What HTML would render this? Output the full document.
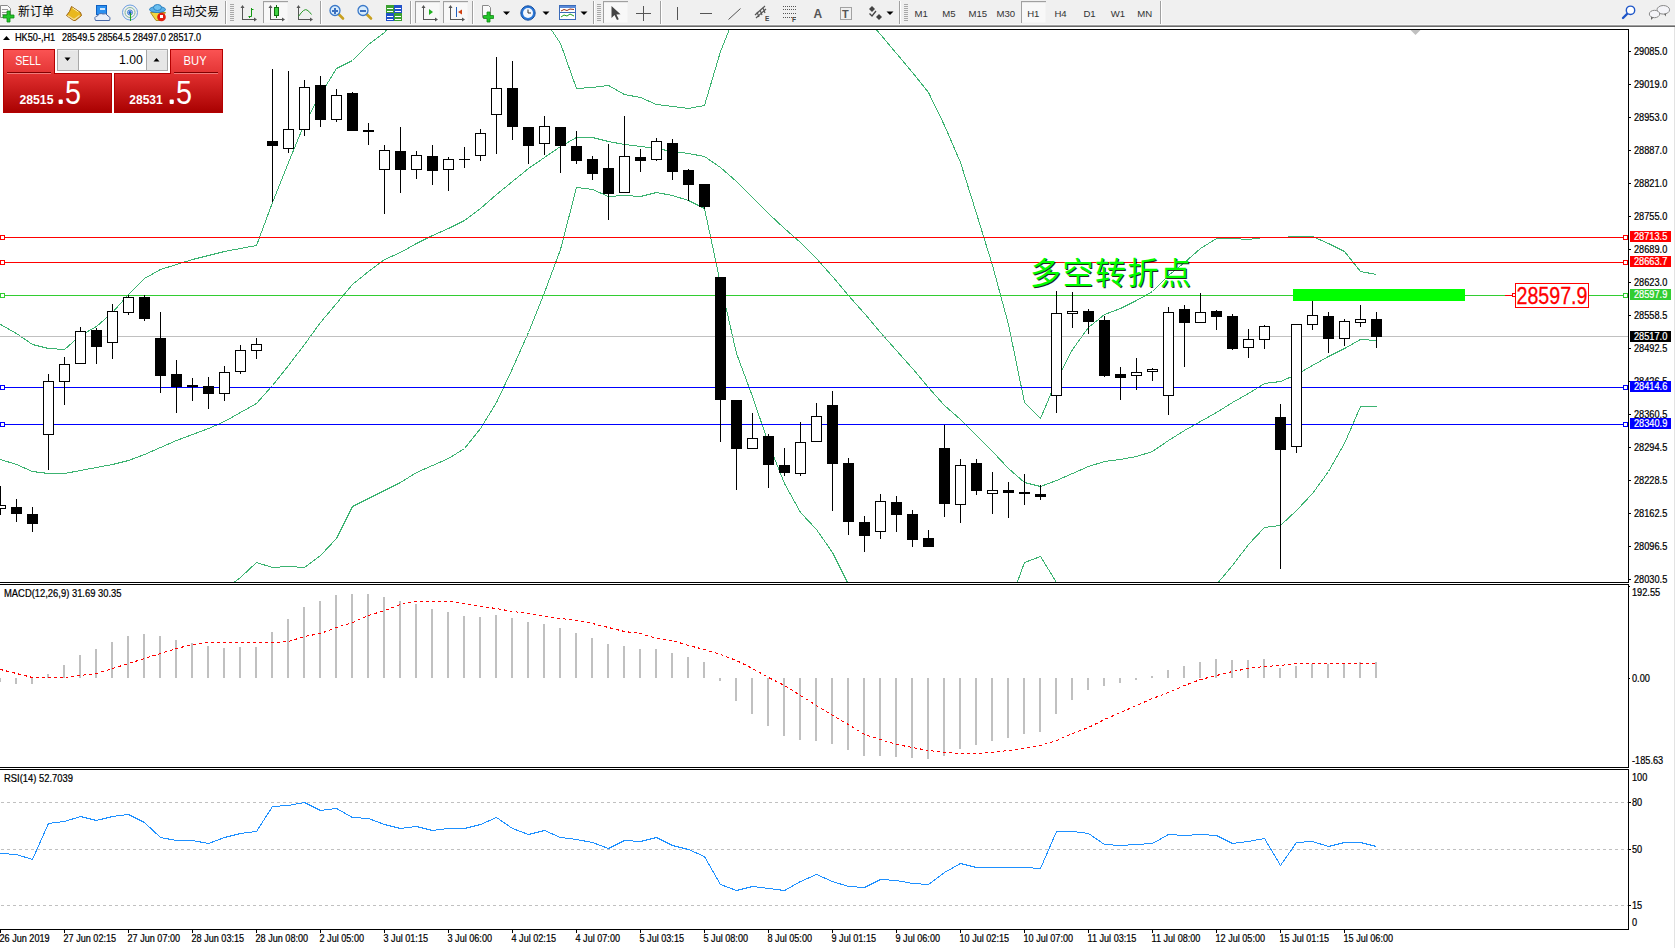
<!DOCTYPE html>
<html><head><meta charset="utf-8"><title>HK50 H1</title>
<style>html,body{margin:0;padding:0;background:#fff;}body{width:1675px;height:948px;overflow:hidden;position:relative;}</style>
</head><body>
<svg width="1675" height="948" viewBox="0 0 1675 948" style="position:absolute;left:0;top:0">
<defs>
<clipPath id="cmain"><rect x="0" y="30" width="1628" height="552"/></clipPath>
<clipPath id="cmacd"><rect x="0" y="585" width="1628" height="182"/></clipPath>
<clipPath id="crsi"><rect x="0" y="770" width="1628" height="159"/></clipPath>
<linearGradient id="gTop" x1="0" y1="0" x2="0" y2="1"><stop offset="0" stop-color="#fb5454"/><stop offset="1" stop-color="#e33434"/></linearGradient>
<linearGradient id="gBot" x1="0" y1="0" x2="0" y2="1"><stop offset="0" stop-color="#e23030"/><stop offset="1" stop-color="#a80000"/></linearGradient>
<linearGradient id="gBtn" x1="0" y1="0" x2="0" y2="1"><stop offset="0" stop-color="#f2f2f2"/><stop offset="1" stop-color="#e2e2e2"/></linearGradient>
</defs>
<rect x="0" y="0" width="1675" height="948" fill="#ffffff" />
<rect x="0" y="0" width="1675" height="24" fill="#f0f0f0" />
<rect x="0" y="24" width="1675" height="1" fill="#f7f7f7" />
<rect x="0" y="25" width="1675" height="1" fill="#a0a0a0" />
<rect x="0" y="26" width="1675" height="1" fill="#696969" />
<rect x="1674" y="27" width="1" height="921" fill="#e3e3e3" />
<path d="M0.5,5.5 H7.5 L10.5,8.5 V17.5 H0.5 Z" fill="#fafafa" stroke="#8a8a8a" stroke-width="1"/>
<rect x="2" y="9" width="6" height="1" fill="#9a9a9a" />
<rect x="2" y="12" width="6" height="1" fill="#9a9a9a" />
<rect x="2" y="14" width="5" height="1" fill="#9a9a9a" />
<path d="M7,11 h3 v4 h4 v3 h-4 v4 h-3 v-4 h-4 v-3 h4 z" fill="#22c52a" stroke="#0f8a12" stroke-width="0.8"/>
<text x="18" y="16.3" font-size="12" fill="#000" text-anchor="start" font-weight="normal" font-family="'Liberation Sans', 'Noto Sans CJK SC', 'WenQuanYi Zen Hei', sans-serif" >新订单</text>
<path d="M71.5,6.5 L80.5,12.5 L81.5,15.5 L75.5,20.5 L73.5,20.5 L66.5,15.5 L69.5,11.5 Z" fill="#e9b81e" stroke="#9a6010" stroke-width="1" stroke-linejoin="round"/>
<path d="M67.5,15.5 L74,19.5 L79.5,15.5" fill="none" stroke="#f4dd9a" stroke-width="1.2"/>
<path d="M72.5,8 L78.5,12" fill="none" stroke="#fff5b0" stroke-width="1"/>
<rect x="96.5" y="5.5" width="10" height="9" fill="#2a8ff0" stroke="#1060c0" stroke-width="1"/>
<rect x="100" y="8" width="5" height="2" fill="#cfe8ff" />
<path d="M95.5,20.5 Q93.5,16.5 97.5,16 Q99,12.5 103,14 Q106,12.5 108,16 Q111,17 109.5,20.5 Z" fill="#e8eef8" stroke="#4a6aa8" stroke-width="1"/>
<circle cx="130" cy="12.5" r="7.5" fill="none" stroke="#6b9ee0" stroke-width="1"/>
<circle cx="130" cy="12.5" r="5" fill="none" stroke="#7fb8a0" stroke-width="1"/>
<circle cx="130" cy="12.5" r="2.5" fill="none" stroke="#4080d0" stroke-width="1"/>
<circle cx="130" cy="12.5" r="1.6" fill="#2060d0"/>
<rect x="130" y="13" width="1" height="8" fill="#20a020" />
<path d="M150.5,12.5 L165.5,12.5 L160,20.5 L156,20.5 Z" fill="#f2d840" stroke="#b09020" stroke-width="1"/>
<ellipse cx="157.5" cy="9.5" rx="8" ry="3" fill="#5ab0e8" stroke="#2a80c0" stroke-width="1"/>
<ellipse cx="157.5" cy="7.5" rx="4" ry="3" fill="#6cc0f0" stroke="#2a80c0" stroke-width="1"/>
<circle cx="161.5" cy="17" r="4.3" fill="#e02010"/>
<rect x="160" y="15" width="3" height="3" fill="#ffffff" />
<text x="171" y="16.3" font-size="12" fill="#000" text-anchor="start" font-weight="normal" font-family="'Liberation Sans', 'Noto Sans CJK SC', 'WenQuanYi Zen Hei', sans-serif" >自动交易</text>
<rect x="225" y="1" width="1" height="23" fill="#a0a0a0" />
<rect x="226" y="1" width="1" height="23" fill="#ffffff" />
<rect x="230" y="4" width="4" height="1" fill="#a8a8a8" />
<rect x="230" y="6" width="4" height="1" fill="#a8a8a8" />
<rect x="230" y="8" width="4" height="1" fill="#a8a8a8" />
<rect x="230" y="10" width="4" height="1" fill="#a8a8a8" />
<rect x="230" y="12" width="4" height="1" fill="#a8a8a8" />
<rect x="230" y="14" width="4" height="1" fill="#a8a8a8" />
<rect x="230" y="16" width="4" height="1" fill="#a8a8a8" />
<rect x="230" y="18" width="4" height="1" fill="#a8a8a8" />
<rect x="230" y="20" width="4" height="1" fill="#a8a8a8" />
<rect x="242" y="7" width="1" height="13" fill="#555" />
<rect x="242" y="19" width="13" height="1" fill="#555" />
<polygon points="240.5,8 244.5,8 242.5,5" fill="#555"/>
<polygon points="254,17.5 254,21.5 257,19.5" fill="#555"/>
<path d="M248.5,16.5 H251.5 V9.5 H253.5" fill="none" stroke="#119911" stroke-width="1"/>
<rect x="251" y="8" width="1" height="2" fill="#119911" />
<rect x="249" y="16" width="1" height="2" fill="#119911" />
<rect x="263.5" y="1.5" width="24" height="21" fill="#f8f8f8" stroke="none"/>
<rect x="263" y="1" width="25" height="1" fill="#a0a0a0" />
<rect x="263" y="1" width="1" height="22" fill="#a0a0a0" />
<rect x="264" y="2" width="24" height="1" fill="#e8e8e8" />
<rect x="270" y="7" width="1" height="13" fill="#555" />
<rect x="270" y="19" width="13" height="1" fill="#555" />
<polygon points="268.5,8 272.5,8 270.5,5" fill="#555"/>
<polygon points="282,17.5 282,21.5 285,19.5" fill="#555"/>
<rect x="274.5" y="7.5" width="4" height="8" fill="#3ed040" stroke="#107010" stroke-width="1"/>
<rect x="276" y="5" width="1" height="2" fill="#107010" />
<rect x="276" y="16" width="1" height="2" fill="#107010" />
<rect x="298" y="7" width="1" height="13" fill="#555" />
<rect x="298" y="19" width="13" height="1" fill="#555" />
<polygon points="296.5,8 300.5,8 298.5,5" fill="#555"/>
<polygon points="310,17.5 310,21.5 313,19.5" fill="#555"/>
<path d="M298.5,16.5 Q304,8 307,10 T311.5,14.5" fill="none" stroke="#2a9a2a" stroke-width="1"/>
<rect x="320" y="1" width="1" height="23" fill="#a0a0a0" />
<rect x="321" y="1" width="1" height="23" fill="#ffffff" />
<line x1="338" y1="13.5" x2="343" y2="18.5" stroke="#c8a020" stroke-width="2.6" stroke-linecap="round"/>
<circle cx="335" cy="10.5" r="5" fill="#d8ecfc" stroke="#3a78c8" stroke-width="1.3"/>
<rect x="332" y="10.0" width="6" height="2" fill="#3a70c0" />
<rect x="334" y="8.0" width="2" height="6" fill="#3a70c0" />
<line x1="366" y1="13.5" x2="371" y2="18.5" stroke="#c8a020" stroke-width="2.6" stroke-linecap="round"/>
<circle cx="363" cy="10.5" r="5" fill="#d8ecfc" stroke="#3a78c8" stroke-width="1.3"/>
<rect x="360" y="10.0" width="6" height="2" fill="#3a70c0" />
<rect x="386" y="5" width="8" height="8" fill="#3aa030" />
<rect x="387" y="8" width="6" height="1" fill="#ffffff" />
<rect x="387" y="11" width="6" height="1" fill="#ffffff" />
<rect x="394" y="5" width="8" height="8" fill="#2050c8" />
<rect x="395" y="8" width="6" height="1" fill="#ffffff" />
<rect x="395" y="11" width="6" height="1" fill="#ffffff" />
<rect x="386" y="13" width="8" height="8" fill="#2050c8" />
<rect x="387" y="16" width="6" height="1" fill="#ffffff" />
<rect x="387" y="19" width="6" height="1" fill="#ffffff" />
<rect x="394" y="13" width="8" height="8" fill="#3aa030" />
<rect x="395" y="16" width="6" height="1" fill="#ffffff" />
<rect x="395" y="19" width="6" height="1" fill="#ffffff" />
<rect x="410" y="1" width="1" height="23" fill="#a0a0a0" />
<rect x="411" y="1" width="1" height="23" fill="#ffffff" />
<rect x="415.5" y="1.5" width="24" height="21" fill="#f8f8f8" stroke="none"/>
<rect x="415" y="1" width="25" height="1" fill="#a0a0a0" />
<rect x="415" y="1" width="1" height="22" fill="#a0a0a0" />
<rect x="416" y="2" width="24" height="1" fill="#e8e8e8" />
<rect x="423" y="7" width="1" height="13" fill="#555" />
<rect x="423" y="19" width="13" height="1" fill="#555" />
<polygon points="421.5,8 425.5,8 423.5,5" fill="#555"/>
<polygon points="435,17.5 435,21.5 438,19.5" fill="#555"/>
<polygon points="429,9 429,15 433,12" fill="#20b020"/>
<rect x="443.5" y="1.5" width="24" height="21" fill="#f8f8f8" stroke="none"/>
<rect x="443" y="1" width="25" height="1" fill="#a0a0a0" />
<rect x="443" y="1" width="1" height="22" fill="#a0a0a0" />
<rect x="444" y="2" width="24" height="1" fill="#e8e8e8" />
<rect x="450" y="7" width="1" height="13" fill="#555" />
<rect x="450" y="19" width="13" height="1" fill="#555" />
<polygon points="448.5,8 452.5,8 450.5,5" fill="#555"/>
<polygon points="462,17.5 462,21.5 465,19.5" fill="#555"/>
<rect x="456" y="7" width="1" height="10" fill="#2060c0" />
<polygon points="458,12 462,9.5 462,14.5" fill="#d04010"/>
<rect x="472" y="1" width="1" height="23" fill="#a0a0a0" />
<rect x="473" y="1" width="1" height="23" fill="#ffffff" />
<path d="M482.5,5.5 H488.5 L490.5,7.5 V17.5 H482.5 Z" fill="#fafafa" stroke="#8a8a8a" stroke-width="1"/>
<path d="M487,12 h3 v3.5 h3.5 v3 h-3.5 v3.5 h-3 v-3.5 h-3.5 v-3 h3.5 z" fill="#22c52a" stroke="#0f8a12" stroke-width="0.8"/>
<polygon points="503.0,11.5 510.0,11.5 506.5,15" fill="#000"/>
<circle cx="528" cy="13" r="7.2" fill="#2a78d8" stroke="#1a50a0" stroke-width="1"/>
<circle cx="528" cy="13" r="5" fill="#f4f8ff"/>
<path d="M528,9.5 V13 H531" fill="none" stroke="#333" stroke-width="1"/>
<polygon points="542.5,11.5 549.5,11.5 546,15" fill="#000"/>
<rect x="559.5" y="5.5" width="16" height="14" fill="#ffffff" stroke="#3a6ab8" stroke-width="1"/>
<rect x="560" y="6" width="16" height="2" fill="#5a8ad8" />
<rect x="560" y="12" width="16" height="1" fill="#3a6ab8" />
<path d="M561,11 L564,9.5 L567,10.5 L570,9 L574,9.5" fill="none" stroke="#a03010" stroke-width="1"/>
<path d="M561,17 L564,15 L567,16 L570,14 L574,16" fill="none" stroke="#20a020" stroke-width="1"/>
<polygon points="580.5,11.5 587.5,11.5 584,15" fill="#000"/>
<rect x="593" y="1" width="1" height="23" fill="#a0a0a0" />
<rect x="594" y="1" width="1" height="23" fill="#ffffff" />
<rect x="597" y="4" width="4" height="1" fill="#a8a8a8" />
<rect x="597" y="6" width="4" height="1" fill="#a8a8a8" />
<rect x="597" y="8" width="4" height="1" fill="#a8a8a8" />
<rect x="597" y="10" width="4" height="1" fill="#a8a8a8" />
<rect x="597" y="12" width="4" height="1" fill="#a8a8a8" />
<rect x="597" y="14" width="4" height="1" fill="#a8a8a8" />
<rect x="597" y="16" width="4" height="1" fill="#a8a8a8" />
<rect x="597" y="18" width="4" height="1" fill="#a8a8a8" />
<rect x="597" y="20" width="4" height="1" fill="#a8a8a8" />
<rect x="603.5" y="1.5" width="24" height="21" fill="#f8f8f8" stroke="none"/>
<rect x="603" y="1" width="25" height="1" fill="#a0a0a0" />
<rect x="603" y="1" width="1" height="22" fill="#a0a0a0" />
<rect x="604" y="2" width="24" height="1" fill="#e8e8e8" />
<path d="M611.5,6 L611.5,18 L614.5,15 L617,20 L618.8,19.2 L616.4,14.4 L620.5,14.2 Z" fill="#444"/>
<rect x="643" y="6" width="1" height="15" fill="#555" />
<rect x="636" y="13" width="15" height="1" fill="#555" />
<rect x="660" y="1" width="1" height="23" fill="#a0a0a0" />
<rect x="661" y="1" width="1" height="23" fill="#ffffff" />
<rect x="677" y="7" width="1" height="13" fill="#555" />
<rect x="700" y="13" width="12" height="1" fill="#555" />
<line x1="728.5" y1="19.5" x2="740.5" y2="8.5" stroke="#555" stroke-width="1"/>
<path d="M755,15 L765,6 M756,18 L766,9 M757,12 L759,17 M760,10 L762,15 M763,8 L765,13" stroke="#555" stroke-width="1.2" fill="none"/>
<text x="765" y="21" font-size="6.5" fill="#444" text-anchor="start" font-weight="bold" font-family="'Liberation Sans', Arial, sans-serif" >E</text>
<line x1="783" y1="6.5" x2="797" y2="6.5" stroke="#555" stroke-width="1" stroke-dasharray="1,1"/>
<line x1="783" y1="9.5" x2="797" y2="9.5" stroke="#555" stroke-width="1" stroke-dasharray="1,1"/>
<line x1="783" y1="13.5" x2="797" y2="13.5" stroke="#555" stroke-width="1" stroke-dasharray="1,1"/>
<line x1="783" y1="17.5" x2="797" y2="17.5" stroke="#555" stroke-width="1" stroke-dasharray="1,1"/>
<text x="792" y="22" font-size="6.5" fill="#444" text-anchor="start" font-weight="bold" font-family="'Liberation Sans', Arial, sans-serif" >F</text>
<text x="813.5" y="17.5" font-size="12" fill="#555" text-anchor="start" font-weight="bold" font-family="'Liberation Sans', Arial, sans-serif" >A</text>
<rect x="840.5" y="7.5" width="11" height="12" fill="none" stroke="#555" stroke-width="1" stroke-dasharray="1,1"/>
<text x="842" y="17.5" font-size="11" fill="#555" text-anchor="start" font-weight="bold" font-family="'Liberation Sans', Arial, sans-serif" >T</text>
<polygon points="869,9 872,6 875,9 872,12" fill="#444"/>
<polygon points="876,17 879,14 882,17 879,20" fill="#444"/>
<path d="M869.5,13.5 L872,16 L876,11" fill="none" stroke="#444" stroke-width="1.3"/>
<polygon points="886.5,11.5 893.5,11.5 890,15" fill="#000"/>
<rect x="899" y="1" width="1" height="23" fill="#a0a0a0" />
<rect x="900" y="1" width="1" height="23" fill="#ffffff" />
<rect x="904" y="4" width="4" height="1" fill="#a8a8a8" />
<rect x="904" y="6" width="4" height="1" fill="#a8a8a8" />
<rect x="904" y="8" width="4" height="1" fill="#a8a8a8" />
<rect x="904" y="10" width="4" height="1" fill="#a8a8a8" />
<rect x="904" y="12" width="4" height="1" fill="#a8a8a8" />
<rect x="904" y="14" width="4" height="1" fill="#a8a8a8" />
<rect x="904" y="16" width="4" height="1" fill="#a8a8a8" />
<rect x="904" y="18" width="4" height="1" fill="#a8a8a8" />
<rect x="904" y="20" width="4" height="1" fill="#a8a8a8" />
<rect x="1021.5" y="1.5" width="24" height="21" fill="#f8f8f8" stroke="none"/>
<rect x="1021" y="1" width="25" height="1" fill="#a0a0a0" />
<rect x="1021" y="1" width="1" height="22" fill="#a0a0a0" />
<rect x="1022" y="2" width="24" height="1" fill="#e8e8e8" />
<text x="914.5" y="17" font-size="9.6" fill="#333" text-anchor="start" font-weight="normal" font-family="'Liberation Sans', Arial, sans-serif" >M1</text>
<text x="942.2" y="17" font-size="9.6" fill="#333" text-anchor="start" font-weight="normal" font-family="'Liberation Sans', Arial, sans-serif" >M5</text>
<text x="968.5" y="17" font-size="9.6" fill="#333" text-anchor="start" font-weight="normal" font-family="'Liberation Sans', Arial, sans-serif" >M15</text>
<text x="996.4" y="17" font-size="9.6" fill="#333" text-anchor="start" font-weight="normal" font-family="'Liberation Sans', Arial, sans-serif" >M30</text>
<text x="1027.2" y="17" font-size="9.6" fill="#333" text-anchor="start" font-weight="normal" font-family="'Liberation Sans', Arial, sans-serif" >H1</text>
<text x="1054.4" y="17" font-size="9.6" fill="#333" text-anchor="start" font-weight="normal" font-family="'Liberation Sans', Arial, sans-serif" >H4</text>
<text x="1083.4" y="17" font-size="9.6" fill="#333" text-anchor="start" font-weight="normal" font-family="'Liberation Sans', Arial, sans-serif" >D1</text>
<text x="1110.8" y="17" font-size="9.6" fill="#333" text-anchor="start" font-weight="normal" font-family="'Liberation Sans', Arial, sans-serif" >W1</text>
<text x="1137.3" y="17" font-size="9.6" fill="#333" text-anchor="start" font-weight="normal" font-family="'Liberation Sans', Arial, sans-serif" >MN</text>
<rect x="1160" y="1" width="1" height="23" fill="#a0a0a0" />
<rect x="1161" y="1" width="1" height="23" fill="#ffffff" />
<line x1="1627" y1="14" x2="1623" y2="18" stroke="#1e56c8" stroke-width="2.4" stroke-linecap="round"/>
<circle cx="1630.5" cy="10.3" r="4.2" fill="#ffffff" stroke="#1e56c8" stroke-width="1.4"/>
<ellipse cx="1663.3" cy="9.8" rx="6.3" ry="4.3" fill="#f4f4f8" stroke="#8a8a8a" stroke-width="1"/>
<path d="M1664,14 L1666,16.5 L1666,13.5 Z" fill="#666"/>
<ellipse cx="1654.5" cy="14" rx="5.2" ry="3.7" fill="#f4f4f8" stroke="#8a8a8a" stroke-width="1"/>
<path d="M1651,17 L1651,20 L1653.5,17.5 Z" fill="#666"/>
<rect x="0" y="29" width="1629" height="1" fill="#000" />
<rect x="0" y="582" width="1629" height="1" fill="#000" />
<rect x="1628" y="29" width="1" height="554" fill="#000" />
<rect x="0" y="584" width="1629" height="1" fill="#000" />
<rect x="0" y="767" width="1629" height="1" fill="#000" />
<rect x="1628" y="584" width="1" height="184" fill="#000" />
<rect x="0" y="769" width="1629" height="1" fill="#000" />
<rect x="0" y="929" width="1629" height="1" fill="#000" />
<rect x="1628" y="769" width="1" height="161" fill="#000" />
<polygon points="1410.5,30 1420.5,30 1415.5,35" fill="#c0c0c0"/>
<g clip-path="url(#cmain)">
<polyline points="0.5,324.5 16.5,333.5 32.5,344.5 48.5,348.5 64.5,349.5 80.5,335.5 96.5,326.5 112.5,312.5 128.5,294.5 144.5,278.5 160.5,269.5 176.5,264.5 192.5,259.5 208.5,255.5 224.5,251.5 240.5,248.5 256.5,245.5 272.5,202.5 288.5,162.5 304.5,123.5 320.5,94.5 336.5,68.5 352.5,60.5 368.5,44.5 384.5,32.5 400.5,10.5 416.5,0.5 432.5,-9.5 448.5,-19.5 464.5,-24.5 480.5,-24.5 496.5,-19.5 512.5,-9.5 528.5,5.5 544.5,19.5 560.5,43.5 576.5,88.5 592.5,87.5 608.5,85.5 624.5,94.5 640.5,97.5 656.5,104.5 672.5,106.5 688.5,108.5 704.5,105.5 720.5,51.5 736.5,11.5 752.5,-9.5 768.5,-19.5 784.5,-24.5 800.5,-24.5 816.5,-19.5 832.5,-9.5 848.5,0.5 864.5,15.5 880.5,34.5 896.5,53.5 912.5,72.5 928.5,92.5 944.5,125.5 960.5,162.5 976.5,213.5 992.5,265.5 1008.5,324.5 1024.5,402.5 1040.5,418.5 1056.5,380.5 1072.5,349.5 1088.5,327.5 1104.5,314.5 1120.5,308.5 1136.5,300.5 1152.5,291.5 1168.5,275.5 1184.5,262.5 1200.5,248.5 1216.5,238.5 1232.5,238.5 1248.5,239.5 1264.5,237.5 1280.5,237.5 1296.5,236.5 1312.5,236.5 1328.5,243.5 1344.5,251.5 1360.5,271.5 1376.5,274.5" fill="none" stroke="#3cb371" stroke-width="1"  shape-rendering="crispEdges" clip-path="url(#cmain)"/>
<polyline points="0.5,459.5 16.5,464.5 32.5,471.5 48.5,473.5 64.5,473.5 80.5,470.5 96.5,467.5 112.5,464.5 128.5,460.5 144.5,454.5 160.5,447.5 176.5,440.5 192.5,434.5 208.5,428.5 224.5,421.5 240.5,412.5 256.5,403.5 272.5,385.5 288.5,365.5 304.5,344.5 320.5,322.5 336.5,303.5 352.5,284.5 368.5,271.5 384.5,259.5 400.5,252.5 416.5,243.5 432.5,235.5 448.5,228.5 464.5,220.5 480.5,208.5 496.5,194.5 512.5,181.5 528.5,168.5 544.5,157.5 560.5,146.5 576.5,137.5 592.5,137.5 608.5,141.5 624.5,144.5 640.5,146.5 656.5,148.5 672.5,151.5 688.5,153.5 704.5,156.5 720.5,167.5 736.5,181.5 752.5,197.5 768.5,213.5 784.5,228.5 800.5,242.5 816.5,258.5 832.5,276.5 848.5,295.5 864.5,313.5 880.5,332.5 896.5,350.5 912.5,368.5 928.5,387.5 944.5,405.5 960.5,419.5 976.5,435.5 992.5,451.5 1008.5,468.5 1024.5,482.5 1040.5,486.5 1056.5,480.5 1072.5,473.5 1088.5,466.5 1104.5,461.5 1120.5,459.5 1136.5,456.5 1152.5,451.5 1168.5,440.5 1184.5,430.5 1200.5,421.5 1216.5,412.5 1232.5,402.5 1248.5,393.5 1264.5,383.5 1280.5,381.5 1296.5,374.5 1312.5,365.5 1328.5,356.5 1344.5,348.5 1360.5,339.5 1376.5,340.5" fill="none" stroke="#3cb371" stroke-width="1"  shape-rendering="crispEdges" clip-path="url(#cmain)"/>
<polyline points="0.5,640.5 16.5,640.5 32.5,640.5 48.5,640.5 64.5,640.5 80.5,640.5 96.5,640.5 112.5,640.5 128.5,640.5 144.5,640.5 160.5,640.5 176.5,640.5 192.5,640.5 208.5,620.5 224.5,589.5 240.5,577.5 256.5,562.5 272.5,567.5 288.5,566.5 304.5,567.5 320.5,555.5 336.5,538.5 352.5,506.5 368.5,498.5 384.5,490.5 400.5,482.5 416.5,472.5 432.5,465.5 448.5,458.5 464.5,448.5 480.5,428.5 496.5,402.5 512.5,368.5 528.5,332.5 544.5,292.5 560.5,249.5 576.5,187.5 592.5,189.5 608.5,196.5 624.5,195.5 640.5,196.5 656.5,192.5 672.5,195.5 688.5,200.5 704.5,208.5 720.5,283.5 736.5,353.5 752.5,396.5 768.5,443.5 784.5,483.5 800.5,512.5 816.5,529.5 832.5,552.5 848.5,584.5 864.5,620.5 880.5,640.5 896.5,640.5 912.5,640.5 928.5,640.5 944.5,640.5 960.5,640.5 976.5,640.5 992.5,640.5 1008.5,606.5 1024.5,562.5 1040.5,556.5 1056.5,582.5 1072.5,610.5 1088.5,640.5 1104.5,640.5 1120.5,640.5 1136.5,640.5 1152.5,640.5 1168.5,640.5 1184.5,640.5 1200.5,610.5 1216.5,584.5 1232.5,565.5 1248.5,544.5 1264.5,527.5 1280.5,525.5 1296.5,510.5 1312.5,493.5 1328.5,471.5 1344.5,443.5 1360.5,406.5 1376.5,406.5" fill="none" stroke="#3cb371" stroke-width="1"  shape-rendering="crispEdges" clip-path="url(#cmain)"/>
<rect x="0" y="336" width="1628" height="1" fill="#c0c0c0" />
<rect x="0" y="237" width="1628" height="1" fill="#ff0000" />
<rect x="0.5" y="235.5" width="4" height="4" fill="#fff" stroke="#ff0000" stroke-width="1" shape-rendering="crispEdges"/>
<rect x="1623.5" y="235.5" width="4" height="4" fill="#fff" stroke="#ff0000" stroke-width="1" shape-rendering="crispEdges"/>
<rect x="0" y="262" width="1628" height="1" fill="#ff0000" />
<rect x="0.5" y="260.5" width="4" height="4" fill="#fff" stroke="#ff0000" stroke-width="1" shape-rendering="crispEdges"/>
<rect x="1623.5" y="260.5" width="4" height="4" fill="#fff" stroke="#ff0000" stroke-width="1" shape-rendering="crispEdges"/>
<rect x="0" y="295" width="1628" height="1" fill="#32cd32" />
<rect x="0.5" y="293.5" width="4" height="4" fill="#fff" stroke="#32cd32" stroke-width="1" shape-rendering="crispEdges"/>
<rect x="1623.5" y="293.5" width="4" height="4" fill="#fff" stroke="#32cd32" stroke-width="1" shape-rendering="crispEdges"/>
<rect x="0" y="387" width="1628" height="1" fill="#0000ff" />
<rect x="0.5" y="385.5" width="4" height="4" fill="#fff" stroke="#0000ff" stroke-width="1" shape-rendering="crispEdges"/>
<rect x="1623.5" y="385.5" width="4" height="4" fill="#fff" stroke="#0000ff" stroke-width="1" shape-rendering="crispEdges"/>
<rect x="0" y="424" width="1628" height="1" fill="#0000ff" />
<rect x="0.5" y="422.5" width="4" height="4" fill="#fff" stroke="#0000ff" stroke-width="1" shape-rendering="crispEdges"/>
<rect x="1623.5" y="422.5" width="4" height="4" fill="#fff" stroke="#0000ff" stroke-width="1" shape-rendering="crispEdges"/>
<rect x="0" y="486" width="1" height="29" fill="#000" />
<rect x="-4.5" y="505.5" width="10" height="3" fill="#fff" stroke="#000" stroke-width="1" shape-rendering="crispEdges"/>
<rect x="16" y="499" width="1" height="23" fill="#000" />
<rect x="11" y="507" width="11" height="7" fill="#000" />
<rect x="32" y="507" width="1" height="25" fill="#000" />
<rect x="27" y="514" width="11" height="10" fill="#000" />
<rect x="48" y="374" width="1" height="96" fill="#000" />
<rect x="43.5" y="381.5" width="10" height="53" fill="#fff" stroke="#000" stroke-width="1" shape-rendering="crispEdges"/>
<rect x="64" y="357" width="1" height="48" fill="#000" />
<rect x="59.5" y="364.5" width="10" height="17" fill="#fff" stroke="#000" stroke-width="1" shape-rendering="crispEdges"/>
<rect x="80" y="327" width="1" height="37" fill="#000" />
<rect x="75.5" y="331.5" width="10" height="32" fill="#fff" stroke="#000" stroke-width="1" shape-rendering="crispEdges"/>
<rect x="96" y="328" width="1" height="36" fill="#000" />
<rect x="91" y="330" width="11" height="17" fill="#000" />
<rect x="112" y="304" width="1" height="55" fill="#000" />
<rect x="107.5" y="311.5" width="10" height="31" fill="#fff" stroke="#000" stroke-width="1" shape-rendering="crispEdges"/>
<rect x="128" y="295" width="1" height="20" fill="#000" />
<rect x="123.5" y="297.5" width="10" height="15" fill="#fff" stroke="#000" stroke-width="1" shape-rendering="crispEdges"/>
<rect x="144" y="295" width="1" height="26" fill="#000" />
<rect x="139" y="297" width="11" height="22" fill="#000" />
<rect x="160" y="312" width="1" height="81" fill="#000" />
<rect x="155" y="338" width="11" height="38" fill="#000" />
<rect x="176" y="360" width="1" height="53" fill="#000" />
<rect x="171" y="374" width="11" height="13" fill="#000" />
<rect x="192" y="378" width="1" height="23" fill="#000" />
<rect x="187" y="385" width="11" height="2" fill="#000" />
<rect x="208" y="377" width="1" height="32" fill="#000" />
<rect x="203" y="386" width="11" height="8" fill="#000" />
<rect x="224" y="366" width="1" height="35" fill="#000" />
<rect x="219.5" y="372.5" width="10" height="21" fill="#fff" stroke="#000" stroke-width="1" shape-rendering="crispEdges"/>
<rect x="240" y="345" width="1" height="29" fill="#000" />
<rect x="235.5" y="350.5" width="10" height="21" fill="#fff" stroke="#000" stroke-width="1" shape-rendering="crispEdges"/>
<rect x="256" y="338" width="1" height="21" fill="#000" />
<rect x="251.5" y="344.5" width="10" height="6" fill="#fff" stroke="#000" stroke-width="1" shape-rendering="crispEdges"/>
<rect x="272" y="69" width="1" height="133" fill="#000" />
<rect x="267" y="141" width="11" height="5" fill="#000" />
<rect x="288" y="71" width="1" height="82" fill="#000" />
<rect x="283.5" y="129.5" width="10" height="19" fill="#fff" stroke="#000" stroke-width="1" shape-rendering="crispEdges"/>
<rect x="304" y="80" width="1" height="56" fill="#000" />
<rect x="299.5" y="87.5" width="10" height="42" fill="#fff" stroke="#000" stroke-width="1" shape-rendering="crispEdges"/>
<rect x="320" y="76" width="1" height="51" fill="#000" />
<rect x="315" y="85" width="11" height="35" fill="#000" />
<rect x="336" y="89" width="1" height="33" fill="#000" />
<rect x="331.5" y="95.5" width="10" height="24" fill="#fff" stroke="#000" stroke-width="1" shape-rendering="crispEdges"/>
<rect x="352" y="92" width="1" height="39" fill="#000" />
<rect x="347" y="93" width="11" height="38" fill="#000" />
<rect x="368" y="123" width="1" height="22" fill="#000" />
<rect x="363" y="130" width="11" height="2" fill="#000" />
<rect x="384" y="145" width="1" height="69" fill="#000" />
<rect x="379.5" y="150.5" width="10" height="19" fill="#fff" stroke="#000" stroke-width="1" shape-rendering="crispEdges"/>
<rect x="400" y="127" width="1" height="66" fill="#000" />
<rect x="395" y="151" width="11" height="19" fill="#000" />
<rect x="416" y="151" width="1" height="28" fill="#000" />
<rect x="411.5" y="155.5" width="10" height="14" fill="#fff" stroke="#000" stroke-width="1" shape-rendering="crispEdges"/>
<rect x="432" y="145" width="1" height="40" fill="#000" />
<rect x="427" y="156" width="11" height="15" fill="#000" />
<rect x="448" y="157" width="1" height="34" fill="#000" />
<rect x="443.5" y="159.5" width="10" height="10" fill="#fff" stroke="#000" stroke-width="1" shape-rendering="crispEdges"/>
<rect x="464" y="147" width="1" height="21" fill="#000" />
<rect x="459" y="159" width="11" height="1" fill="#000" />
<rect x="480" y="129" width="1" height="32" fill="#000" />
<rect x="475.5" y="133.5" width="10" height="22" fill="#fff" stroke="#000" stroke-width="1" shape-rendering="crispEdges"/>
<rect x="496" y="57" width="1" height="97" fill="#000" />
<rect x="491.5" y="88.5" width="10" height="26" fill="#fff" stroke="#000" stroke-width="1" shape-rendering="crispEdges"/>
<rect x="512" y="61" width="1" height="79" fill="#000" />
<rect x="507" y="88" width="11" height="39" fill="#000" />
<rect x="528" y="127" width="1" height="37" fill="#000" />
<rect x="523" y="127" width="11" height="19" fill="#000" />
<rect x="544" y="116" width="1" height="39" fill="#000" />
<rect x="539.5" y="126.5" width="10" height="17" fill="#fff" stroke="#000" stroke-width="1" shape-rendering="crispEdges"/>
<rect x="560" y="127" width="1" height="46" fill="#000" />
<rect x="555" y="127" width="11" height="19" fill="#000" />
<rect x="576" y="131" width="1" height="33" fill="#000" />
<rect x="571" y="146" width="11" height="15" fill="#000" />
<rect x="592" y="156" width="1" height="24" fill="#000" />
<rect x="587" y="159" width="11" height="15" fill="#000" />
<rect x="608" y="144" width="1" height="76" fill="#000" />
<rect x="603" y="168" width="11" height="26" fill="#000" />
<rect x="624" y="116" width="1" height="77" fill="#000" />
<rect x="619.5" y="156.5" width="10" height="36" fill="#fff" stroke="#000" stroke-width="1" shape-rendering="crispEdges"/>
<rect x="640" y="149" width="1" height="23" fill="#000" />
<rect x="635" y="157" width="11" height="4" fill="#000" />
<rect x="656" y="138" width="1" height="23" fill="#000" />
<rect x="651.5" y="141.5" width="10" height="18" fill="#fff" stroke="#000" stroke-width="1" shape-rendering="crispEdges"/>
<rect x="672" y="139" width="1" height="41" fill="#000" />
<rect x="667" y="143" width="11" height="29" fill="#000" />
<rect x="688" y="169" width="1" height="32" fill="#000" />
<rect x="683" y="170" width="11" height="15" fill="#000" />
<rect x="704" y="184" width="1" height="25" fill="#000" />
<rect x="699" y="184" width="11" height="23" fill="#000" />
<rect x="720" y="277" width="1" height="165" fill="#000" />
<rect x="715" y="277" width="11" height="123" fill="#000" />
<rect x="736" y="400" width="1" height="90" fill="#000" />
<rect x="731" y="400" width="11" height="49" fill="#000" />
<rect x="752" y="413" width="1" height="36" fill="#000" />
<rect x="747.5" y="438.5" width="10" height="10" fill="#fff" stroke="#000" stroke-width="1" shape-rendering="crispEdges"/>
<rect x="768" y="434" width="1" height="54" fill="#000" />
<rect x="763" y="436" width="11" height="29" fill="#000" />
<rect x="784" y="448" width="1" height="28" fill="#000" />
<rect x="779" y="465" width="11" height="8" fill="#000" />
<rect x="800" y="422" width="1" height="54" fill="#000" />
<rect x="795.5" y="442.5" width="10" height="31" fill="#fff" stroke="#000" stroke-width="1" shape-rendering="crispEdges"/>
<rect x="816" y="403" width="1" height="39" fill="#000" />
<rect x="811.5" y="416.5" width="10" height="25" fill="#fff" stroke="#000" stroke-width="1" shape-rendering="crispEdges"/>
<rect x="832" y="391" width="1" height="120" fill="#000" />
<rect x="827" y="405" width="11" height="59" fill="#000" />
<rect x="848" y="458" width="1" height="77" fill="#000" />
<rect x="843" y="463" width="11" height="59" fill="#000" />
<rect x="864" y="516" width="1" height="36" fill="#000" />
<rect x="859" y="522" width="11" height="14" fill="#000" />
<rect x="880" y="494" width="1" height="45" fill="#000" />
<rect x="875.5" y="501.5" width="10" height="30" fill="#fff" stroke="#000" stroke-width="1" shape-rendering="crispEdges"/>
<rect x="896" y="496" width="1" height="36" fill="#000" />
<rect x="891" y="502" width="11" height="13" fill="#000" />
<rect x="912" y="510" width="1" height="37" fill="#000" />
<rect x="907" y="514" width="11" height="26" fill="#000" />
<rect x="928" y="530" width="1" height="17" fill="#000" />
<rect x="923" y="538" width="11" height="9" fill="#000" />
<rect x="944" y="425" width="1" height="92" fill="#000" />
<rect x="939" y="448" width="11" height="56" fill="#000" />
<rect x="960" y="459" width="1" height="64" fill="#000" />
<rect x="955.5" y="465.5" width="10" height="39" fill="#fff" stroke="#000" stroke-width="1" shape-rendering="crispEdges"/>
<rect x="976" y="459" width="1" height="36" fill="#000" />
<rect x="971" y="463" width="11" height="28" fill="#000" />
<rect x="992" y="472" width="1" height="42" fill="#000" />
<rect x="987.5" y="490.5" width="10" height="3" fill="#fff" stroke="#000" stroke-width="1" shape-rendering="crispEdges"/>
<rect x="1008" y="482" width="1" height="36" fill="#000" />
<rect x="1003" y="490" width="11" height="3" fill="#000" />
<rect x="1024" y="474" width="1" height="31" fill="#000" />
<rect x="1019" y="492" width="11" height="2" fill="#000" />
<rect x="1040" y="485" width="1" height="15" fill="#000" />
<rect x="1035" y="494" width="11" height="3" fill="#000" />
<rect x="1056" y="291" width="1" height="122" fill="#000" />
<rect x="1051.5" y="313.5" width="10" height="82" fill="#fff" stroke="#000" stroke-width="1" shape-rendering="crispEdges"/>
<rect x="1072" y="292" width="1" height="36" fill="#000" />
<rect x="1067.5" y="311.5" width="10" height="2" fill="#fff" stroke="#000" stroke-width="1" shape-rendering="crispEdges"/>
<rect x="1088" y="309" width="1" height="25" fill="#000" />
<rect x="1083" y="311" width="11" height="11" fill="#000" />
<rect x="1104" y="316" width="1" height="61" fill="#000" />
<rect x="1099" y="320" width="11" height="56" fill="#000" />
<rect x="1120" y="367" width="1" height="33" fill="#000" />
<rect x="1115" y="374" width="11" height="4" fill="#000" />
<rect x="1136" y="358" width="1" height="32" fill="#000" />
<rect x="1131.5" y="372.5" width="10" height="3" fill="#fff" stroke="#000" stroke-width="1" shape-rendering="crispEdges"/>
<rect x="1152" y="368" width="1" height="13" fill="#000" />
<rect x="1147.5" y="369.5" width="10" height="2" fill="#fff" stroke="#000" stroke-width="1" shape-rendering="crispEdges"/>
<rect x="1168" y="307" width="1" height="108" fill="#000" />
<rect x="1163.5" y="312.5" width="10" height="83" fill="#fff" stroke="#000" stroke-width="1" shape-rendering="crispEdges"/>
<rect x="1184" y="305" width="1" height="62" fill="#000" />
<rect x="1179" y="309" width="11" height="14" fill="#000" />
<rect x="1200" y="293" width="1" height="30" fill="#000" />
<rect x="1195.5" y="312.5" width="10" height="10" fill="#fff" stroke="#000" stroke-width="1" shape-rendering="crispEdges"/>
<rect x="1216" y="310" width="1" height="20" fill="#000" />
<rect x="1211" y="311" width="11" height="6" fill="#000" />
<rect x="1232" y="314" width="1" height="36" fill="#000" />
<rect x="1227" y="316" width="11" height="33" fill="#000" />
<rect x="1248" y="329" width="1" height="29" fill="#000" />
<rect x="1243.5" y="339.5" width="10" height="8" fill="#fff" stroke="#000" stroke-width="1" shape-rendering="crispEdges"/>
<rect x="1264" y="325" width="1" height="24" fill="#000" />
<rect x="1259.5" y="326.5" width="10" height="13" fill="#fff" stroke="#000" stroke-width="1" shape-rendering="crispEdges"/>
<rect x="1280" y="404" width="1" height="165" fill="#000" />
<rect x="1275" y="417" width="11" height="33" fill="#000" />
<rect x="1296" y="324" width="1" height="129" fill="#000" />
<rect x="1291.5" y="324.5" width="10" height="122" fill="#fff" stroke="#000" stroke-width="1" shape-rendering="crispEdges"/>
<rect x="1312" y="301" width="1" height="29" fill="#000" />
<rect x="1307.5" y="315.5" width="10" height="9" fill="#fff" stroke="#000" stroke-width="1" shape-rendering="crispEdges"/>
<rect x="1328" y="312" width="1" height="41" fill="#000" />
<rect x="1323" y="316" width="11" height="23" fill="#000" />
<rect x="1344" y="319" width="1" height="27" fill="#000" />
<rect x="1339.5" y="321.5" width="10" height="17" fill="#fff" stroke="#000" stroke-width="1" shape-rendering="crispEdges"/>
<rect x="1360" y="305" width="1" height="22" fill="#000" />
<rect x="1355.5" y="319.5" width="10" height="3" fill="#fff" stroke="#000" stroke-width="1" shape-rendering="crispEdges"/>
<rect x="1376" y="312" width="1" height="36" fill="#000" />
<rect x="1371" y="319" width="11" height="18" fill="#000" />
</g>
<rect x="1293" y="289" width="172" height="12" fill="#00ff00" />
<rect x="1505" y="295" width="8" height="1" fill="#ff0000" />
<rect x="1512.5" y="293.5" width="3" height="3" fill="#fff" stroke="#ff0000" stroke-width="1" shape-rendering="crispEdges"/>
<rect x="1515.5" y="283.5" width="73" height="24" fill="#fff" stroke="#ff0000" stroke-width="1" shape-rendering="crispEdges"/>
<text x="1516.5" y="304.3" font-size="23" fill="#ff0000" text-anchor="start" font-weight="normal" font-family="'Liberation Sans', Arial, sans-serif" textLength="71" lengthAdjust="spacingAndGlyphs" stroke="#ff0000" stroke-width="0.3">28597.9</text>
<text x="1030" y="283.5" font-size="31" fill="#000" text-anchor="start" font-weight="normal" font-family="'Liberation Sans', 'Noto Sans CJK SC', 'WenQuanYi Zen Hei', sans-serif" opacity="0.85" transform="translate(1,1)" textLength="161" lengthAdjust="spacing">多空转折点</text>
<text x="1030" y="283.5" font-size="31" fill="#00ff00" text-anchor="start" font-weight="normal" font-family="'Liberation Sans', 'Noto Sans CJK SC', 'WenQuanYi Zen Hei', sans-serif" textLength="161" lengthAdjust="spacing">多空转折点</text>
<polygon points="3,40 10,40 6.5,36" fill="#000"/>
<text x="15" y="41" font-size="10.3" fill="#000" text-anchor="start" font-weight="normal" font-family="'Liberation Sans', Arial, sans-serif" textLength="40.17" lengthAdjust="spacingAndGlyphs" stroke="#000" stroke-width="0.22">HK50-,H1</text>
<text x="62" y="41" font-size="10.3" fill="#000" text-anchor="start" font-weight="normal" font-family="'Liberation Sans', Arial, sans-serif" textLength="139.16" lengthAdjust="spacingAndGlyphs" stroke="#000" stroke-width="0.22">28549.5 28564.5 28497.0 28517.0</text>
<rect x="3" y="49" width="52" height="25" fill="url(#gTop)" />
<rect x="3" y="73" width="109" height="40" fill="url(#gBot)" />
<path d="M3.5,49.5 H54.5 V73.5 H111.5 V112.5 H3.5 Z" fill="none" stroke="#b40000" stroke-width="1" shape-rendering="crispEdges"/>
<rect x="7" y="72" width="44" height="1" fill="#800000" />
<rect x="7" y="73" width="44" height="1" fill="#f07a7a" />
<rect x="170" y="49" width="53" height="25" fill="url(#gTop)" />
<rect x="114" y="73" width="109" height="40" fill="url(#gBot)" />
<path d="M170.5,49.5 H222.5 V112.5 H114.5 V73.5 H170.5 Z" fill="none" stroke="#b40000" stroke-width="1" shape-rendering="crispEdges"/>
<rect x="174" y="72" width="44" height="1" fill="#800000" />
<rect x="174" y="73" width="44" height="1" fill="#f07a7a" />
<text x="15.2" y="64.9" font-size="12" fill="#fff" text-anchor="start" font-weight="normal" font-family="'Liberation Sans', Arial, sans-serif" textLength="25.8" lengthAdjust="spacingAndGlyphs">SELL</text>
<text x="183.6" y="64.9" font-size="12" fill="#fff" text-anchor="start" font-weight="normal" font-family="'Liberation Sans', Arial, sans-serif" textLength="23.1" lengthAdjust="spacingAndGlyphs">BUY</text>
<text x="19.4" y="104" font-size="12.6" fill="#fff" text-anchor="start" font-weight="bold" font-family="'Liberation Sans', Arial, sans-serif" textLength="34.1" lengthAdjust="spacingAndGlyphs">28515</text>
<text x="129.3" y="104" font-size="12.6" fill="#fff" text-anchor="start" font-weight="bold" font-family="'Liberation Sans', Arial, sans-serif" textLength="33.4" lengthAdjust="spacingAndGlyphs">28531</text>
<rect x="58.6" y="99.6" width="4.2" height="4.4" rx="1" fill="#fff"/>
<rect x="169.6" y="99.6" width="4.2" height="4.4" rx="1" fill="#fff"/>
<text x="65" y="104" font-size="33" fill="#fff" text-anchor="start" font-weight="normal" font-family="'Liberation Sans', Arial, sans-serif" textLength="16" lengthAdjust="spacingAndGlyphs">5</text>
<text x="176.1" y="104" font-size="33" fill="#fff" text-anchor="start" font-weight="normal" font-family="'Liberation Sans', Arial, sans-serif" textLength="16" lengthAdjust="spacingAndGlyphs">5</text>
<rect x="57" y="49" width="111" height="22" fill="#a8a8a8" />
<rect x="58" y="50" width="20" height="20" fill="#e6e6e6" />
<rect x="79" y="50" width="67" height="20" fill="#ffffff" />
<rect x="147" y="50" width="20" height="20" fill="#e6e6e6" />
<rect x="58" y="50" width="20" height="1" fill="#eeeeee" />
<rect x="147" y="50" width="20" height="1" fill="#eeeeee" />
<polygon points="64.5,57.5 70.5,57.5 67.5,61" fill="#000"/>
<polygon points="153.5,61.5 159.5,61.5 156.5,58" fill="#000"/>
<text x="142.8" y="64.2" font-size="12.2" fill="#000" text-anchor="end" font-weight="normal" font-family="'Liberation Sans', Arial, sans-serif" >1.00</text>
<rect x="1629" y="51" width="2" height="1" fill="#000" />
<text x="1634" y="54.5" font-size="10.3" fill="#000" text-anchor="start" font-weight="normal" font-family="'Liberation Sans', Arial, sans-serif" textLength="33.26" lengthAdjust="spacingAndGlyphs" stroke="#000" stroke-width="0.22">29085.0</text>
<rect x="1629" y="84" width="2" height="1" fill="#000" />
<text x="1634" y="87.5" font-size="10.3" fill="#000" text-anchor="start" font-weight="normal" font-family="'Liberation Sans', Arial, sans-serif" textLength="33.26" lengthAdjust="spacingAndGlyphs" stroke="#000" stroke-width="0.22">29019.0</text>
<rect x="1629" y="117" width="2" height="1" fill="#000" />
<text x="1634" y="120.5" font-size="10.3" fill="#000" text-anchor="start" font-weight="normal" font-family="'Liberation Sans', Arial, sans-serif" textLength="33.26" lengthAdjust="spacingAndGlyphs" stroke="#000" stroke-width="0.22">28953.0</text>
<rect x="1629" y="150" width="2" height="1" fill="#000" />
<text x="1634" y="153.5" font-size="10.3" fill="#000" text-anchor="start" font-weight="normal" font-family="'Liberation Sans', Arial, sans-serif" textLength="33.26" lengthAdjust="spacingAndGlyphs" stroke="#000" stroke-width="0.22">28887.0</text>
<rect x="1629" y="183" width="2" height="1" fill="#000" />
<text x="1634" y="186.5" font-size="10.3" fill="#000" text-anchor="start" font-weight="normal" font-family="'Liberation Sans', Arial, sans-serif" textLength="33.26" lengthAdjust="spacingAndGlyphs" stroke="#000" stroke-width="0.22">28821.0</text>
<rect x="1629" y="216" width="2" height="1" fill="#000" />
<text x="1634" y="219.5" font-size="10.3" fill="#000" text-anchor="start" font-weight="normal" font-family="'Liberation Sans', Arial, sans-serif" textLength="33.26" lengthAdjust="spacingAndGlyphs" stroke="#000" stroke-width="0.22">28755.0</text>
<rect x="1629" y="249" width="2" height="1" fill="#000" />
<text x="1634" y="252.5" font-size="10.3" fill="#000" text-anchor="start" font-weight="normal" font-family="'Liberation Sans', Arial, sans-serif" textLength="33.26" lengthAdjust="spacingAndGlyphs" stroke="#000" stroke-width="0.22">28689.0</text>
<rect x="1629" y="282" width="2" height="1" fill="#000" />
<text x="1634" y="285.5" font-size="10.3" fill="#000" text-anchor="start" font-weight="normal" font-family="'Liberation Sans', Arial, sans-serif" textLength="33.26" lengthAdjust="spacingAndGlyphs" stroke="#000" stroke-width="0.22">28623.0</text>
<rect x="1629" y="315" width="2" height="1" fill="#000" />
<text x="1634" y="318.5" font-size="10.3" fill="#000" text-anchor="start" font-weight="normal" font-family="'Liberation Sans', Arial, sans-serif" textLength="33.26" lengthAdjust="spacingAndGlyphs" stroke="#000" stroke-width="0.22">28558.5</text>
<rect x="1629" y="348" width="2" height="1" fill="#000" />
<text x="1634" y="351.5" font-size="10.3" fill="#000" text-anchor="start" font-weight="normal" font-family="'Liberation Sans', Arial, sans-serif" textLength="33.26" lengthAdjust="spacingAndGlyphs" stroke="#000" stroke-width="0.22">28492.5</text>
<rect x="1629" y="381" width="2" height="1" fill="#000" />
<text x="1634" y="384.5" font-size="10.3" fill="#000" text-anchor="start" font-weight="normal" font-family="'Liberation Sans', Arial, sans-serif" textLength="33.26" lengthAdjust="spacingAndGlyphs" stroke="#000" stroke-width="0.22">28426.5</text>
<rect x="1629" y="414" width="2" height="1" fill="#000" />
<text x="1634" y="417.5" font-size="10.3" fill="#000" text-anchor="start" font-weight="normal" font-family="'Liberation Sans', Arial, sans-serif" textLength="33.26" lengthAdjust="spacingAndGlyphs" stroke="#000" stroke-width="0.22">28360.5</text>
<rect x="1629" y="447" width="2" height="1" fill="#000" />
<text x="1634" y="450.5" font-size="10.3" fill="#000" text-anchor="start" font-weight="normal" font-family="'Liberation Sans', Arial, sans-serif" textLength="33.26" lengthAdjust="spacingAndGlyphs" stroke="#000" stroke-width="0.22">28294.5</text>
<rect x="1629" y="480" width="2" height="1" fill="#000" />
<text x="1634" y="483.5" font-size="10.3" fill="#000" text-anchor="start" font-weight="normal" font-family="'Liberation Sans', Arial, sans-serif" textLength="33.26" lengthAdjust="spacingAndGlyphs" stroke="#000" stroke-width="0.22">28228.5</text>
<rect x="1629" y="513" width="2" height="1" fill="#000" />
<text x="1634" y="516.5" font-size="10.3" fill="#000" text-anchor="start" font-weight="normal" font-family="'Liberation Sans', Arial, sans-serif" textLength="33.26" lengthAdjust="spacingAndGlyphs" stroke="#000" stroke-width="0.22">28162.5</text>
<rect x="1629" y="546" width="2" height="1" fill="#000" />
<text x="1634" y="549.5" font-size="10.3" fill="#000" text-anchor="start" font-weight="normal" font-family="'Liberation Sans', Arial, sans-serif" textLength="33.26" lengthAdjust="spacingAndGlyphs" stroke="#000" stroke-width="0.22">28096.5</text>
<rect x="1629" y="579" width="2" height="1" fill="#000" />
<text x="1634" y="582.5" font-size="10.3" fill="#000" text-anchor="start" font-weight="normal" font-family="'Liberation Sans', Arial, sans-serif" textLength="33.26" lengthAdjust="spacingAndGlyphs" stroke="#000" stroke-width="0.22">28030.5</text>
<rect x="1630" y="231" width="41" height="11" fill="#ff0000" />
<text x="1634" y="239.5" font-size="10.3" fill="#fff" text-anchor="start" font-weight="normal" font-family="'Liberation Sans', Arial, sans-serif" textLength="33.26" lengthAdjust="spacingAndGlyphs" stroke="#fff" stroke-width="0.22">28713.5</text>
<rect x="1630" y="256" width="41" height="11" fill="#ff0000" />
<text x="1634" y="264.5" font-size="10.3" fill="#fff" text-anchor="start" font-weight="normal" font-family="'Liberation Sans', Arial, sans-serif" textLength="33.26" lengthAdjust="spacingAndGlyphs" stroke="#fff" stroke-width="0.22">28663.7</text>
<rect x="1630" y="289" width="41" height="11" fill="#32cd32" />
<text x="1634" y="297.5" font-size="10.3" fill="#fff" text-anchor="start" font-weight="normal" font-family="'Liberation Sans', Arial, sans-serif" textLength="33.26" lengthAdjust="spacingAndGlyphs" stroke="#fff" stroke-width="0.22">28597.9</text>
<rect x="1630" y="331" width="41" height="11" fill="#000000" />
<text x="1634" y="339.5" font-size="10.3" fill="#fff" text-anchor="start" font-weight="normal" font-family="'Liberation Sans', Arial, sans-serif" textLength="33.26" lengthAdjust="spacingAndGlyphs" stroke="#fff" stroke-width="0.22">28517.0</text>
<rect x="1630" y="381" width="41" height="11" fill="#0000ff" />
<text x="1634" y="389.5" font-size="10.3" fill="#fff" text-anchor="start" font-weight="normal" font-family="'Liberation Sans', Arial, sans-serif" textLength="33.26" lengthAdjust="spacingAndGlyphs" stroke="#fff" stroke-width="0.22">28414.6</text>
<rect x="1630" y="418" width="41" height="11" fill="#0000ff" />
<text x="1634" y="426.5" font-size="10.3" fill="#fff" text-anchor="start" font-weight="normal" font-family="'Liberation Sans', Arial, sans-serif" textLength="33.26" lengthAdjust="spacingAndGlyphs" stroke="#fff" stroke-width="0.22">28340.9</text>
<g clip-path="url(#cmacd)">
<rect x="-1" y="678" width="2" height="4" fill="#c0c0c0" />
<rect x="15" y="678" width="2" height="6" fill="#c0c0c0" />
<rect x="31" y="678" width="2" height="6" fill="#c0c0c0" />
<rect x="47" y="674" width="2" height="4" fill="#c0c0c0" />
<rect x="63" y="665" width="2" height="13" fill="#c0c0c0" />
<rect x="79" y="655" width="2" height="23" fill="#c0c0c0" />
<rect x="95" y="649" width="2" height="29" fill="#c0c0c0" />
<rect x="111" y="642" width="2" height="36" fill="#c0c0c0" />
<rect x="127" y="636" width="2" height="42" fill="#c0c0c0" />
<rect x="143" y="634" width="2" height="44" fill="#c0c0c0" />
<rect x="159" y="636" width="2" height="42" fill="#c0c0c0" />
<rect x="175" y="640" width="2" height="38" fill="#c0c0c0" />
<rect x="191" y="643" width="2" height="35" fill="#c0c0c0" />
<rect x="207" y="646" width="2" height="32" fill="#c0c0c0" />
<rect x="223" y="648" width="2" height="30" fill="#c0c0c0" />
<rect x="239" y="647" width="2" height="31" fill="#c0c0c0" />
<rect x="255" y="647" width="2" height="31" fill="#c0c0c0" />
<rect x="271" y="632" width="2" height="46" fill="#c0c0c0" />
<rect x="287" y="619" width="2" height="59" fill="#c0c0c0" />
<rect x="303" y="607" width="2" height="71" fill="#c0c0c0" />
<rect x="319" y="601" width="2" height="77" fill="#c0c0c0" />
<rect x="335" y="595" width="2" height="83" fill="#c0c0c0" />
<rect x="351" y="594" width="2" height="84" fill="#c0c0c0" />
<rect x="367" y="594" width="2" height="84" fill="#c0c0c0" />
<rect x="383" y="597" width="2" height="81" fill="#c0c0c0" />
<rect x="399" y="601" width="2" height="77" fill="#c0c0c0" />
<rect x="415" y="604" width="2" height="74" fill="#c0c0c0" />
<rect x="431" y="609" width="2" height="69" fill="#c0c0c0" />
<rect x="447" y="612" width="2" height="66" fill="#c0c0c0" />
<rect x="463" y="616" width="2" height="62" fill="#c0c0c0" />
<rect x="479" y="617" width="2" height="61" fill="#c0c0c0" />
<rect x="495" y="615" width="2" height="63" fill="#c0c0c0" />
<rect x="511" y="618" width="2" height="60" fill="#c0c0c0" />
<rect x="527" y="622" width="2" height="56" fill="#c0c0c0" />
<rect x="543" y="624" width="2" height="54" fill="#c0c0c0" />
<rect x="559" y="628" width="2" height="50" fill="#c0c0c0" />
<rect x="575" y="633" width="2" height="45" fill="#c0c0c0" />
<rect x="591" y="638" width="2" height="40" fill="#c0c0c0" />
<rect x="607" y="644" width="2" height="34" fill="#c0c0c0" />
<rect x="623" y="646" width="2" height="32" fill="#c0c0c0" />
<rect x="639" y="649" width="2" height="29" fill="#c0c0c0" />
<rect x="655" y="649" width="2" height="29" fill="#c0c0c0" />
<rect x="671" y="653" width="2" height="25" fill="#c0c0c0" />
<rect x="687" y="657" width="2" height="21" fill="#c0c0c0" />
<rect x="703" y="662" width="2" height="16" fill="#c0c0c0" />
<rect x="719" y="678" width="2" height="3" fill="#c0c0c0" />
<rect x="735" y="678" width="2" height="23" fill="#c0c0c0" />
<rect x="751" y="678" width="2" height="36" fill="#c0c0c0" />
<rect x="767" y="678" width="2" height="48" fill="#c0c0c0" />
<rect x="783" y="678" width="2" height="58" fill="#c0c0c0" />
<rect x="799" y="678" width="2" height="62" fill="#c0c0c0" />
<rect x="815" y="678" width="2" height="63" fill="#c0c0c0" />
<rect x="831" y="678" width="2" height="66" fill="#c0c0c0" />
<rect x="847" y="678" width="2" height="72" fill="#c0c0c0" />
<rect x="863" y="678" width="2" height="78" fill="#c0c0c0" />
<rect x="879" y="678" width="2" height="78" fill="#c0c0c0" />
<rect x="895" y="678" width="2" height="79" fill="#c0c0c0" />
<rect x="911" y="678" width="2" height="80" fill="#c0c0c0" />
<rect x="927" y="678" width="2" height="81" fill="#c0c0c0" />
<rect x="943" y="678" width="2" height="78" fill="#c0c0c0" />
<rect x="959" y="678" width="2" height="71" fill="#c0c0c0" />
<rect x="975" y="678" width="2" height="67" fill="#c0c0c0" />
<rect x="991" y="678" width="2" height="63" fill="#c0c0c0" />
<rect x="1007" y="678" width="2" height="60" fill="#c0c0c0" />
<rect x="1023" y="678" width="2" height="56" fill="#c0c0c0" />
<rect x="1039" y="678" width="2" height="54" fill="#c0c0c0" />
<rect x="1055" y="678" width="2" height="36" fill="#c0c0c0" />
<rect x="1071" y="678" width="2" height="22" fill="#c0c0c0" />
<rect x="1087" y="678" width="2" height="12" fill="#c0c0c0" />
<rect x="1103" y="678" width="2" height="8" fill="#c0c0c0" />
<rect x="1119" y="678" width="2" height="5" fill="#c0c0c0" />
<rect x="1135" y="678" width="2" height="2" fill="#c0c0c0" />
<rect x="1151" y="676" width="2" height="2" fill="#c0c0c0" />
<rect x="1167" y="670" width="2" height="8" fill="#c0c0c0" />
<rect x="1183" y="666" width="2" height="12" fill="#c0c0c0" />
<rect x="1199" y="662" width="2" height="16" fill="#c0c0c0" />
<rect x="1215" y="659" width="2" height="19" fill="#c0c0c0" />
<rect x="1231" y="660" width="2" height="18" fill="#c0c0c0" />
<rect x="1247" y="660" width="2" height="18" fill="#c0c0c0" />
<rect x="1263" y="659" width="2" height="19" fill="#c0c0c0" />
<rect x="1279" y="668" width="2" height="10" fill="#c0c0c0" />
<rect x="1295" y="666" width="2" height="12" fill="#c0c0c0" />
<rect x="1311" y="664" width="2" height="14" fill="#c0c0c0" />
<rect x="1327" y="664" width="2" height="14" fill="#c0c0c0" />
<rect x="1343" y="663" width="2" height="15" fill="#c0c0c0" />
<rect x="1359" y="662" width="2" height="16" fill="#c0c0c0" />
<rect x="1375" y="662" width="2" height="16" fill="#c0c0c0" />
<polyline points="0.5,669.5 16.5,673.5 32.5,677.5 48.5,677.5 64.5,677.5 80.5,675.5 96.5,673.5 112.5,668.5 128.5,663.5 144.5,658.5 160.5,653.5 176.5,648.5 192.5,644.5 208.5,642.5 224.5,642.5 240.5,642.5 256.5,642.5 272.5,642.5 288.5,641.5 304.5,636.5 320.5,633.5 336.5,627.5 352.5,622.5 368.5,615.5 384.5,610.5 400.5,604.5 416.5,601.5 432.5,601.5 448.5,601.5 464.5,603.5 480.5,606.5 496.5,608.5 512.5,611.5 528.5,613.5 544.5,616.5 560.5,618.5 576.5,620.5 592.5,623.5 608.5,627.5 624.5,631.5 640.5,633.5 656.5,638.5 672.5,640.5 688.5,645.5 704.5,649.5 720.5,654.5 736.5,660.5 752.5,668.5 768.5,677.5 784.5,685.5 800.5,695.5 816.5,705.5 832.5,715.5 848.5,724.5 864.5,734.5 880.5,739.5 896.5,744.5 912.5,747.5 928.5,750.5 944.5,752.5 960.5,753.5 976.5,753.5 992.5,752.5 1008.5,750.5 1024.5,748.5 1040.5,745.5 1056.5,740.5 1072.5,733.5 1088.5,727.5 1104.5,719.5 1120.5,712.5 1136.5,705.5 1152.5,698.5 1168.5,692.5 1184.5,685.5 1200.5,679.5 1216.5,675.5 1232.5,671.5 1248.5,668.5 1264.5,666.5 1280.5,665.5 1296.5,663.5 1312.5,663.5 1328.5,663.5 1344.5,663.5 1360.5,663.5 1376.5,663.5" fill="none" stroke="#ff0000" stroke-width="1" stroke-dasharray="3,3" shape-rendering="crispEdges" clip-path="url(#cmacd)"/>
</g>
<text x="4" y="597" font-size="10.3" fill="#000" text-anchor="start" font-weight="normal" font-family="'Liberation Sans', Arial, sans-serif" textLength="117.57" lengthAdjust="spacingAndGlyphs" stroke="#000" stroke-width="0.22">MACD(12,26,9) 31.69 30.35</text>
<rect x="1629" y="586" width="1" height="1" fill="#000" />
<text x="1632" y="595.5" font-size="10.3" fill="#000" text-anchor="start" font-weight="normal" font-family="'Liberation Sans', Arial, sans-serif" textLength="28.14" lengthAdjust="spacingAndGlyphs" stroke="#000" stroke-width="0.22">192.55</text>
<rect x="1629" y="678" width="1" height="1" fill="#000" />
<text x="1632" y="681.5" font-size="10.3" fill="#000" text-anchor="start" font-weight="normal" font-family="'Liberation Sans', Arial, sans-serif" textLength="17.91" lengthAdjust="spacingAndGlyphs" stroke="#000" stroke-width="0.22">0.00</text>
<text x="1632" y="763.5" font-size="10.3" fill="#000" text-anchor="start" font-weight="normal" font-family="'Liberation Sans', Arial, sans-serif" textLength="31.20" lengthAdjust="spacingAndGlyphs" stroke="#000" stroke-width="0.22">-185.63</text>
<g clip-path="url(#crsi)">
<line x1="0" y1="802.5" x2="1628" y2="802.5" stroke="#c0c0c0" stroke-width="1" stroke-dasharray="3,3" stroke-dashoffset="-1" shape-rendering="crispEdges"/>
<line x1="0" y1="849.5" x2="1628" y2="849.5" stroke="#c0c0c0" stroke-width="1" stroke-dasharray="3,3" stroke-dashoffset="-1" shape-rendering="crispEdges"/>
<line x1="0" y1="905.5" x2="1628" y2="905.5" stroke="#c0c0c0" stroke-width="1" stroke-dasharray="3,3" stroke-dashoffset="-1" shape-rendering="crispEdges"/>
<polyline points="0.5,853.5 16.5,854.5 32.5,859.5 48.5,823.5 64.5,821.5 80.5,816.5 96.5,820.5 112.5,816.5 128.5,814.5 144.5,822.5 160.5,837.5 176.5,840.5 192.5,840.5 208.5,843.5 224.5,837.5 240.5,833.5 256.5,831.5 272.5,806.5 288.5,805.5 304.5,802.5 320.5,810.5 336.5,808.5 352.5,817.5 368.5,818.5 384.5,824.5 400.5,828.5 416.5,826.5 432.5,830.5 448.5,828.5 464.5,828.5 480.5,824.5 496.5,817.5 512.5,828.5 528.5,834.5 544.5,830.5 560.5,837.5 576.5,839.5 592.5,842.5 608.5,848.5 624.5,840.5 640.5,841.5 656.5,837.5 672.5,845.5 688.5,849.5 704.5,856.5 720.5,884.5 736.5,890.5 752.5,886.5 768.5,888.5 784.5,890.5 800.5,881.5 816.5,874.5 832.5,881.5 848.5,886.5 864.5,887.5 880.5,879.5 896.5,880.5 912.5,883.5 928.5,884.5 944.5,872.5 960.5,863.5 976.5,867.5 992.5,867.5 1008.5,867.5 1024.5,867.5 1040.5,868.5 1056.5,831.5 1072.5,831.5 1088.5,833.5 1104.5,844.5 1120.5,845.5 1136.5,844.5 1152.5,843.5 1168.5,834.5 1184.5,835.5 1200.5,834.5 1216.5,835.5 1232.5,843.5 1248.5,841.5 1264.5,838.5 1280.5,865.5 1296.5,842.5 1312.5,841.5 1328.5,846.5 1344.5,842.5 1360.5,842.5 1376.5,846.5" fill="none" stroke="#1e90ff" stroke-width="1"  shape-rendering="crispEdges" clip-path="url(#crsi)"/>
</g>
<text x="4" y="782" font-size="10.3" fill="#000" text-anchor="start" font-weight="normal" font-family="'Liberation Sans', Arial, sans-serif" textLength="68.98" lengthAdjust="spacingAndGlyphs" stroke="#000" stroke-width="0.22">RSI(14) 52.7039</text>
<text x="1632" y="780.5" font-size="10.3" fill="#000" text-anchor="start" font-weight="normal" font-family="'Liberation Sans', Arial, sans-serif" textLength="15.35" lengthAdjust="spacingAndGlyphs" stroke="#000" stroke-width="0.22">100</text>
<rect x="1629" y="802" width="2" height="1" fill="#000" />
<text x="1632" y="805.5" font-size="10.3" fill="#000" text-anchor="start" font-weight="normal" font-family="'Liberation Sans', Arial, sans-serif" textLength="10.23" lengthAdjust="spacingAndGlyphs" stroke="#000" stroke-width="0.22">80</text>
<rect x="1629" y="849" width="2" height="1" fill="#000" />
<text x="1632" y="852.5" font-size="10.3" fill="#000" text-anchor="start" font-weight="normal" font-family="'Liberation Sans', Arial, sans-serif" textLength="10.23" lengthAdjust="spacingAndGlyphs" stroke="#000" stroke-width="0.22">50</text>
<rect x="1629" y="905" width="2" height="1" fill="#000" />
<text x="1632" y="908.5" font-size="10.3" fill="#000" text-anchor="start" font-weight="normal" font-family="'Liberation Sans', Arial, sans-serif" textLength="10.23" lengthAdjust="spacingAndGlyphs" stroke="#000" stroke-width="0.22">15</text>
<text x="1632" y="925.5" font-size="10.3" fill="#000" text-anchor="start" font-weight="normal" font-family="'Liberation Sans', Arial, sans-serif" textLength="5.12" lengthAdjust="spacingAndGlyphs" stroke="#000" stroke-width="0.22">0</text>
<rect x="0" y="930" width="1" height="3" fill="#000" />
<text x="-0.5" y="942" font-size="10.3" fill="#000" text-anchor="start" font-weight="normal" font-family="'Liberation Sans', Arial, sans-serif" textLength="50.09" lengthAdjust="spacingAndGlyphs" stroke="#000" stroke-width="0.22">26 Jun 2019</text>
<rect x="64" y="930" width="1" height="3" fill="#000" />
<text x="63.5" y="942" font-size="10.3" fill="#000" text-anchor="start" font-weight="normal" font-family="'Liberation Sans', Arial, sans-serif" textLength="52.62" lengthAdjust="spacingAndGlyphs" stroke="#000" stroke-width="0.22">27 Jun 02:15</text>
<rect x="128" y="930" width="1" height="3" fill="#000" />
<text x="127.5" y="942" font-size="10.3" fill="#000" text-anchor="start" font-weight="normal" font-family="'Liberation Sans', Arial, sans-serif" textLength="52.62" lengthAdjust="spacingAndGlyphs" stroke="#000" stroke-width="0.22">27 Jun 07:00</text>
<rect x="192" y="930" width="1" height="3" fill="#000" />
<text x="191.5" y="942" font-size="10.3" fill="#000" text-anchor="start" font-weight="normal" font-family="'Liberation Sans', Arial, sans-serif" textLength="52.62" lengthAdjust="spacingAndGlyphs" stroke="#000" stroke-width="0.22">28 Jun 03:15</text>
<rect x="256" y="930" width="1" height="3" fill="#000" />
<text x="255.5" y="942" font-size="10.3" fill="#000" text-anchor="start" font-weight="normal" font-family="'Liberation Sans', Arial, sans-serif" textLength="52.62" lengthAdjust="spacingAndGlyphs" stroke="#000" stroke-width="0.22">28 Jun 08:00</text>
<rect x="320" y="930" width="1" height="3" fill="#000" />
<text x="319.5" y="942" font-size="10.3" fill="#000" text-anchor="start" font-weight="normal" font-family="'Liberation Sans', Arial, sans-serif" textLength="44.52" lengthAdjust="spacingAndGlyphs" stroke="#000" stroke-width="0.22">2 Jul 05:00</text>
<rect x="384" y="930" width="1" height="3" fill="#000" />
<text x="383.5" y="942" font-size="10.3" fill="#000" text-anchor="start" font-weight="normal" font-family="'Liberation Sans', Arial, sans-serif" textLength="44.52" lengthAdjust="spacingAndGlyphs" stroke="#000" stroke-width="0.22">3 Jul 01:15</text>
<rect x="448" y="930" width="1" height="3" fill="#000" />
<text x="447.5" y="942" font-size="10.3" fill="#000" text-anchor="start" font-weight="normal" font-family="'Liberation Sans', Arial, sans-serif" textLength="44.52" lengthAdjust="spacingAndGlyphs" stroke="#000" stroke-width="0.22">3 Jul 06:00</text>
<rect x="512" y="930" width="1" height="3" fill="#000" />
<text x="511.5" y="942" font-size="10.3" fill="#000" text-anchor="start" font-weight="normal" font-family="'Liberation Sans', Arial, sans-serif" textLength="44.52" lengthAdjust="spacingAndGlyphs" stroke="#000" stroke-width="0.22">4 Jul 02:15</text>
<rect x="576" y="930" width="1" height="3" fill="#000" />
<text x="575.5" y="942" font-size="10.3" fill="#000" text-anchor="start" font-weight="normal" font-family="'Liberation Sans', Arial, sans-serif" textLength="44.52" lengthAdjust="spacingAndGlyphs" stroke="#000" stroke-width="0.22">4 Jul 07:00</text>
<rect x="640" y="930" width="1" height="3" fill="#000" />
<text x="639.5" y="942" font-size="10.3" fill="#000" text-anchor="start" font-weight="normal" font-family="'Liberation Sans', Arial, sans-serif" textLength="44.52" lengthAdjust="spacingAndGlyphs" stroke="#000" stroke-width="0.22">5 Jul 03:15</text>
<rect x="704" y="930" width="1" height="3" fill="#000" />
<text x="703.5" y="942" font-size="10.3" fill="#000" text-anchor="start" font-weight="normal" font-family="'Liberation Sans', Arial, sans-serif" textLength="44.52" lengthAdjust="spacingAndGlyphs" stroke="#000" stroke-width="0.22">5 Jul 08:00</text>
<rect x="768" y="930" width="1" height="3" fill="#000" />
<text x="767.5" y="942" font-size="10.3" fill="#000" text-anchor="start" font-weight="normal" font-family="'Liberation Sans', Arial, sans-serif" textLength="44.52" lengthAdjust="spacingAndGlyphs" stroke="#000" stroke-width="0.22">8 Jul 05:00</text>
<rect x="832" y="930" width="1" height="3" fill="#000" />
<text x="831.5" y="942" font-size="10.3" fill="#000" text-anchor="start" font-weight="normal" font-family="'Liberation Sans', Arial, sans-serif" textLength="44.52" lengthAdjust="spacingAndGlyphs" stroke="#000" stroke-width="0.22">9 Jul 01:15</text>
<rect x="896" y="930" width="1" height="3" fill="#000" />
<text x="895.5" y="942" font-size="10.3" fill="#000" text-anchor="start" font-weight="normal" font-family="'Liberation Sans', Arial, sans-serif" textLength="44.52" lengthAdjust="spacingAndGlyphs" stroke="#000" stroke-width="0.22">9 Jul 06:00</text>
<rect x="960" y="930" width="1" height="3" fill="#000" />
<text x="959.5" y="942" font-size="10.3" fill="#000" text-anchor="start" font-weight="normal" font-family="'Liberation Sans', Arial, sans-serif" textLength="49.58" lengthAdjust="spacingAndGlyphs" stroke="#000" stroke-width="0.22">10 Jul 02:15</text>
<rect x="1024" y="930" width="1" height="3" fill="#000" />
<text x="1023.5" y="942" font-size="10.3" fill="#000" text-anchor="start" font-weight="normal" font-family="'Liberation Sans', Arial, sans-serif" textLength="49.58" lengthAdjust="spacingAndGlyphs" stroke="#000" stroke-width="0.22">10 Jul 07:00</text>
<rect x="1088" y="930" width="1" height="3" fill="#000" />
<text x="1087.5" y="942" font-size="10.3" fill="#000" text-anchor="start" font-weight="normal" font-family="'Liberation Sans', Arial, sans-serif" textLength="48.91" lengthAdjust="spacingAndGlyphs" stroke="#000" stroke-width="0.22">11 Jul 03:15</text>
<rect x="1152" y="930" width="1" height="3" fill="#000" />
<text x="1151.5" y="942" font-size="10.3" fill="#000" text-anchor="start" font-weight="normal" font-family="'Liberation Sans', Arial, sans-serif" textLength="48.91" lengthAdjust="spacingAndGlyphs" stroke="#000" stroke-width="0.22">11 Jul 08:00</text>
<rect x="1216" y="930" width="1" height="3" fill="#000" />
<text x="1215.5" y="942" font-size="10.3" fill="#000" text-anchor="start" font-weight="normal" font-family="'Liberation Sans', Arial, sans-serif" textLength="49.58" lengthAdjust="spacingAndGlyphs" stroke="#000" stroke-width="0.22">12 Jul 05:00</text>
<rect x="1280" y="930" width="1" height="3" fill="#000" />
<text x="1279.5" y="942" font-size="10.3" fill="#000" text-anchor="start" font-weight="normal" font-family="'Liberation Sans', Arial, sans-serif" textLength="49.58" lengthAdjust="spacingAndGlyphs" stroke="#000" stroke-width="0.22">15 Jul 01:15</text>
<rect x="1344" y="930" width="1" height="3" fill="#000" />
<text x="1343.5" y="942" font-size="10.3" fill="#000" text-anchor="start" font-weight="normal" font-family="'Liberation Sans', Arial, sans-serif" textLength="49.58" lengthAdjust="spacingAndGlyphs" stroke="#000" stroke-width="0.22">15 Jul 06:00</text>
</svg>
</body></html>
